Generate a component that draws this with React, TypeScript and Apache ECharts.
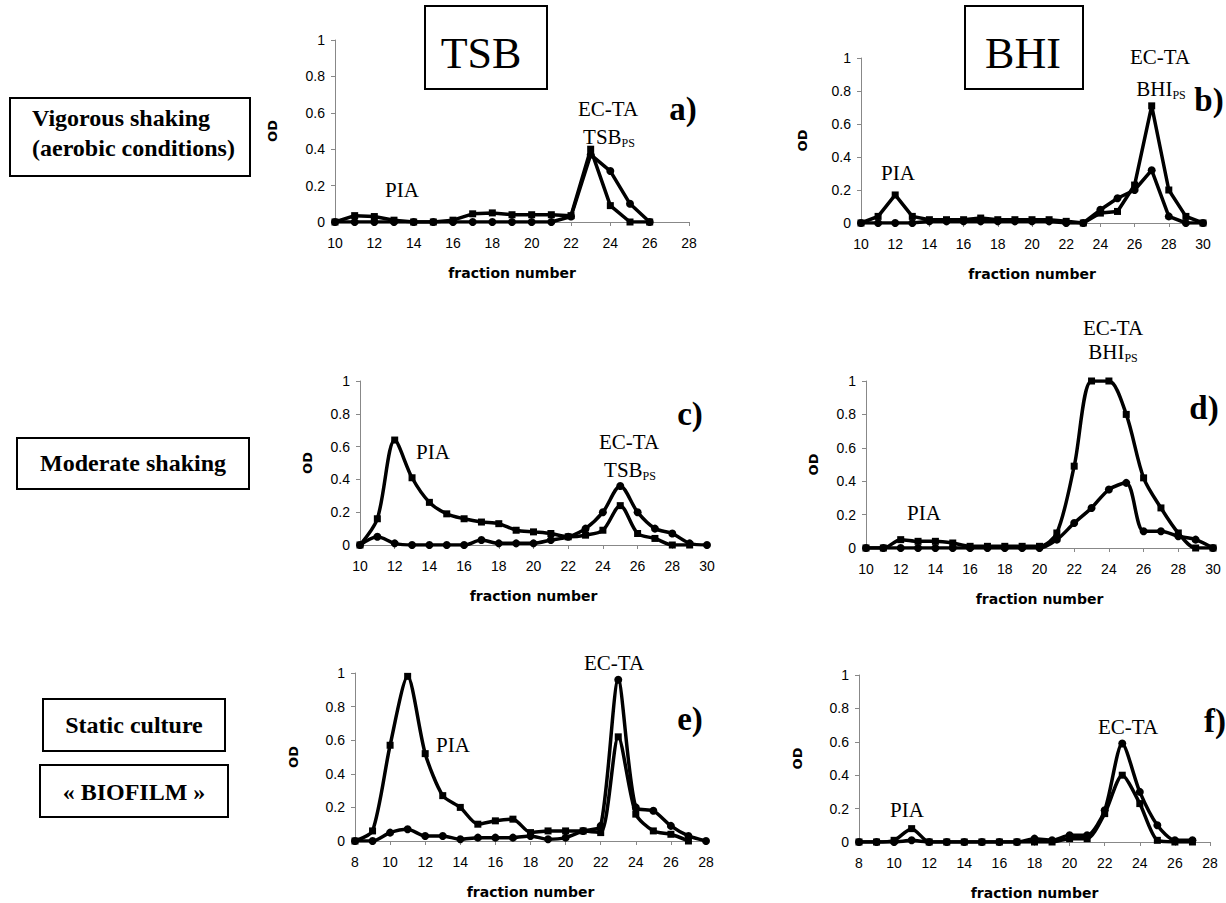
import React, { useEffect, useRef } from "react";
import * as echarts from "echarts";

// ---- data (OD per fraction number) ----
const aStart = 10;
const aSquares = [0, 0.035, 0.03, 0.01, 0, 0, 0.01, 0.045, 0.05, 0.04, 0.04, 0.04, 0.035, 0.40, 0.09, 0, 0];
const aCircles = [0, 0, 0, 0, 0, 0, 0, 0, 0, 0, 0, 0, 0.03, 0.37, 0.28, 0.10, 0];

const bStart = 10;
const bSquares = [0, 0.04, 0.17, 0.04, 0.02, 0.02, 0.02, 0.03, 0.02, 0.02, 0.02, 0.02, 0.01, 0, 0.06, 0.07, 0.23, 0.71, 0.20, 0.04, 0];
const bCircles = [0, 0, 0, 0, 0.01, 0.01, 0.01, 0.01, 0.01, 0.01, 0.01, 0.01, 0, 0, 0.08, 0.15, 0.20, 0.32, 0.04, 0, 0];

const cStart = 10;
const cSquares = [0, 0.16, 0.64, 0.41, 0.26, 0.19, 0.16, 0.14, 0.13, 0.09, 0.08, 0.07, 0.05, 0.06, 0.09, 0.24, 0.07, 0.04, 0, 0];
const cCircles = [0, 0.05, 0.01, 0, 0, 0, 0, 0.03, 0.01, 0.01, 0.01, 0.03, 0.05, 0.10, 0.20, 0.36, 0.20, 0.10, 0.07, 0.01, 0];

const dStart = 10;
const dSquares = [0, 0, 0.05, 0.04, 0.04, 0.03, 0.01, 0.01, 0.01, 0.01, 0.01, 0.09, 0.49, 1.0, 1.0, 0.80, 0.42, 0.24, 0.09, 0, 0];
const dCircles = [0, 0, 0, 0, 0, 0, 0, 0, 0, 0, 0, 0.05, 0.15, 0.24, 0.35, 0.39, 0.10, 0.10, 0.07, 0.05, 0];

const eStart = 8;
const eSquares = [0, 0.06, 0.57, 0.98, 0.52, 0.27, 0.20, 0.10, 0.12, 0.13, 0.05, 0.06, 0.06, 0.06, 0.05, 0.62, 0.16, 0.06, 0.04, 0];
const eCircles = [0, 0, 0.05, 0.07, 0.03, 0.03, 0.01, 0.02, 0.02, 0.02, 0.03, 0.01, 0.02, 0.06, 0.09, 0.96, 0.20, 0.18, 0.09, 0.03, 0];

const fStart = 8;
const fSquares = [0, 0, 0.01, 0.08, 0, 0, 0, 0, 0, 0, 0, 0, 0.02, 0.02, 0.17, 0.40, 0.23, 0.01, 0, 0];
const fCircles = [0, 0, 0, 0.01, 0, 0, 0, 0, 0, 0, 0.02, 0.01, 0.04, 0.04, 0.19, 0.59, 0.30, 0.10, 0.01, 0.01];

const xRanges: [number, number][] = [[10, 28], [10, 30], [10, 30], [10, 30], [8, 28], [8, 28]];
const yTicks = [0, 0.2, 0.4, 0.6, 0.8, 1];
const xAxisTitle = "fraction number";
const yAxisTitle = "OD";

const panelData = [
  { start: aStart, sq: aSquares, ci: aCircles, smooth: false },
  { start: bStart, sq: bSquares, ci: bCircles, smooth: false },
  { start: cStart, sq: cSquares, ci: cCircles, smooth: 0.3 },
  { start: dStart, sq: dSquares, ci: dCircles, smooth: 0.3 },
  { start: eStart, sq: eSquares, ci: eCircles, smooth: 0.25 },
  { start: fStart, sq: fSquares, ci: fCircles, smooth: 0.25 },
];

// ---- layout (pixel positions of axes) ----
// [xLeft, xRight, yTop, yBottom]
const layout = [
  [335, 689, 40, 222],
  [861, 1203, 58, 223],
  [360, 707, 381, 545],
  [866, 1213, 381, 548],
  [355, 706, 673, 841],
  [859, 1210, 675, 842],
];
const odGaps = [56, 52, 46, 46, 55, 55];

const SERIF = '"Liberation Serif", "Times New Roman", serif';
const SANS = '"Liberation Sans", Arial, sans-serif';

function toPairs(start: number, ys: number[]) {
  return ys.map((v, i) => [start + i, v]);
}

function txt(x: number, y: number, text: string, size: number, bold = false, align = "center") {
  return {
    type: "text",
    x,
    y,
    style: {
      text,
      fill: "#000",
      fontSize: size,
      fontFamily: SERIF,
      fontWeight: bold ? "bold" : "normal",
      align,
      verticalAlign: "middle",
    },
  };
}

function subTxt(x: number, y: number, main: string, sub: string) {
  return {
    type: "text",
    x,
    y,
    style: {
      text: `{m|${main}}{s|${sub}}`,
      fill: "#000",
      align: "center",
      verticalAlign: "middle",
      rich: {
        m: { fontSize: 21, fontFamily: SERIF, fill: "#000", lineHeight: 24 },
        s: { fontSize: 12, fontFamily: SERIF, fill: "#000", lineHeight: 24, verticalAlign: "bottom", padding: [8, 0, 0, 0] },
      },
    },
  };
}

function box(x: number, y: number, w: number, h: number) {
  return {
    type: "rect",
    shape: { x, y, width: w, height: h },
    style: { fill: "none", stroke: "#000", lineWidth: 2 },
  };
}

export default function App() {
  const ref = useRef<HTMLDivElement>(null);
  useEffect(() => {
    if (!ref.current) return;
    const chart = echarts.init(ref.current, null, { renderer: "svg" });

    const grid = layout.map(([l, r, t, b]) => ({
      left: l,
      top: t,
      width: r - l,
      height: b - t,
      containLabel: false,
    }));

    const axisLine = { show: true, lineStyle: { color: "#888", width: 1 } };

    const xAxis = xRanges.map(([mn, mx], i) => ({
      type: "value",
      gridIndex: i,
      min: mn,
      max: mx,
      interval: 2,
      name: xAxisTitle,
      nameLocation: "middle",
      nameGap: 44,
      nameTextStyle: { fontFamily: '"DejaVu Sans", sans-serif', fontWeight: "bold", fontSize: 14, color: "#000" },
      axisLine,
      axisTick: { show: true, length: 4, lineStyle: { color: "#888" } },
      axisLabel: { margin: 14, fontFamily: SANS, fontSize: 14, color: "#000" },
      splitLine: { show: false },
    }));

    const yAxis = xRanges.map((_, i) => ({
      type: "value",
      gridIndex: i,
      min: yTicks[0],
      max: yTicks[yTicks.length - 1],
      interval: 0.2,
      name: yAxisTitle,
      nameLocation: "middle",
      nameGap: odGaps[i],
      nameTextStyle: { fontFamily: '"DejaVu Sans", sans-serif', fontWeight: "bold", fontSize: 13, color: "#000" },
      axisLine,
      axisTick: { show: true, length: 4, lineStyle: { color: "#888" } },
      axisLabel: { margin: 10, fontFamily: SANS, fontSize: 14, color: "#000" },
      splitLine: { show: false },
    }));

    const series: any[] = [];
    panelData.forEach((p, i) => {
      series.push({
        type: "line",
        xAxisIndex: i,
        yAxisIndex: i,
        data: toPairs(p.start, p.sq),
        smooth: p.smooth,
        symbol: "rect",
        symbolSize: 7,
        showAllSymbol: true,
        lineStyle: { color: "#000", width: 3.5 },
        itemStyle: { color: "#000" },
        z: 3,
      });
      series.push({
        type: "line",
        xAxisIndex: i,
        yAxisIndex: i,
        data: toPairs(p.start, p.ci),
        smooth: p.smooth,
        symbol: "circle",
        symbolSize: 8,
        showAllSymbol: true,
        lineStyle: { color: "#000", width: 3.5 },
        itemStyle: { color: "#000" },
        z: 3,
      });
    });

    const graphic: any[] = [
      // column headers
      box(425, 6, 122, 83),
      txt(481, 53, "TSB", 44),
      box(965, 6, 118, 83),
      txt(1023, 53, "BHI", 44),
      // row labels
      box(10, 98, 240, 78),
      {
        type: "text",
        x: 32,
        y: 133,
        style: {
          text: "Vigorous shaking\n(aerobic conditions)",
          fill: "#000",
          fontSize: 24,
          fontFamily: SERIF,
          fontWeight: "bold",
          lineHeight: 30,
          align: "left",
          verticalAlign: "middle",
        },
      },
      box(17, 438, 232, 51),
      txt(133, 463, "Moderate shaking", 24, true),
      box(43, 699, 182, 52),
      txt(134, 725, "Static culture", 24, true),
      box(40, 765, 188, 52),
      txt(134, 792, "« BIOFILM »", 24, true),
      // panel a
      txt(608, 109, "EC-TA", 21),
      subTxt(609, 137, "TSB", "PS"),
      txt(683, 109, "a)", 33, true),
      txt(402, 190, "PIA", 21),
      // panel b
      txt(1160, 57, "EC-TA", 21),
      subTxt(1161, 89, "BHI", "PS"),
      txt(1209, 100, "b)", 33, true),
      txt(898, 173, "PIA", 21),
      // panel c
      txt(629, 442, "EC-TA", 21),
      subTxt(630, 470, "TSB", "PS"),
      txt(690, 414, "c)", 33, true),
      txt(433, 452, "PIA", 21),
      // panel d
      txt(1113, 328, "EC-TA", 21),
      subTxt(1113, 352, "BHI", "PS"),
      txt(1204, 408, "d)", 33, true),
      txt(924, 513, "PIA", 21),
      // panel e
      txt(614, 663, "EC-TA", 21),
      txt(690, 719, "e)", 33, true),
      txt(453, 745, "PIA", 21),
      // panel f
      txt(1128, 727, "EC-TA", 21),
      txt(1215, 721, "f)", 33, true),
      txt(907, 810, "PIA", 21),
    ];

    chart.setOption({
      animation: false,
      backgroundColor: "#fff",
      grid,
      xAxis,
      yAxis,
      series,
      graphic,
    });
    return () => chart.dispose();
  }, []);

  return (
    <div
      ref={ref}
      style={{ position: "absolute", left: 0, top: 0, width: 1226, height: 903, background: "#fff" }}
    />
  );
}
